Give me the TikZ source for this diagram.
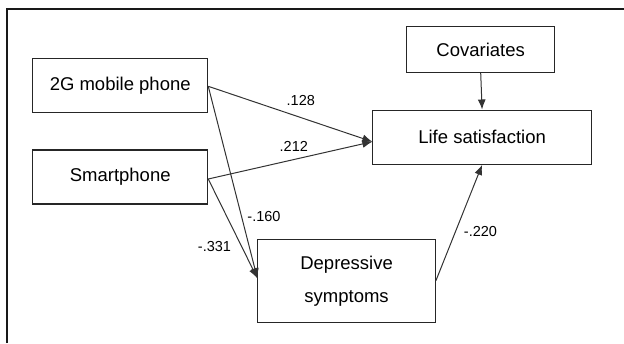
\documentclass[tikz,border=0pt]{standalone}
\usepackage{fontspec}
\setmainfont{Liberation Sans}
\usetikzlibrary{arrows.meta}

\tikzset{
  varbox/.style={draw=black!85, line width=1.1pt, inner sep=0pt, align=center,
    font=\fontsize{18.5}{33}\selectfont},
  path/.style={draw=black!80, line width=1pt, -{Latex[length=10pt,width=8pt]}},
  coef/.style={inner sep=0pt, font=\fontsize{14.5}{16}\selectfont}
}

\begin{document}
\begin{tikzpicture}[x=1pt,y=-1pt]
\useasboundingbox (0,0) rectangle (624,343);
\draw[line width=2pt, black!90] (7.3,343) -- (7.3,9) -- (624,9);

\node[varbox, minimum width=175pt, minimum height=54pt] (phone2g) at (120.2,85.3) {2G mobile phone};
\node[varbox, minimum width=175pt, minimum height=54pt] (smart) at (120.2,177) {Smartphone};
\node[varbox, minimum width=148pt, minimum height=45.6pt] (covar) at (480.7,49.5) {Covariates};
\node[varbox, minimum width=218.4pt, minimum height=54.3pt] (life) at (482.1,137.2) {Life satisfaction};
\node[varbox, minimum width=177.4pt, minimum height=83pt] (dep) at (346.6,280.8) {Depressive\\symptoms};

\draw[path] ([yshift=-1pt]phone2g.east) -- ([yshift=-4.5pt]life.west);
\draw[path] ([yshift=-2pt]smart.east) -- ([yshift=-4.5pt]life.west);
\draw[path] ([yshift=-1pt]phone2g.east) -- ([yshift=2.5pt]dep.west);
\draw[path] ([yshift=-2pt]smart.east) -- ([yshift=2.5pt]dep.west);
\draw[path] (dep.east) -- (life.south);
\draw[path] (covar.south) -- (life.north);

\node[coef] (c128) at (300.8,100.5) {.128};
\node[coef] (c212) at (293.8,146.7) {.212};
\node[coef] (c160) at (264,217) {-.160};
\node[coef] (c331) at (214.5,246.7) {-.331};
\node[coef] (c220) at (480.5,231.7) {-.220};
\end{tikzpicture}
\end{document}
